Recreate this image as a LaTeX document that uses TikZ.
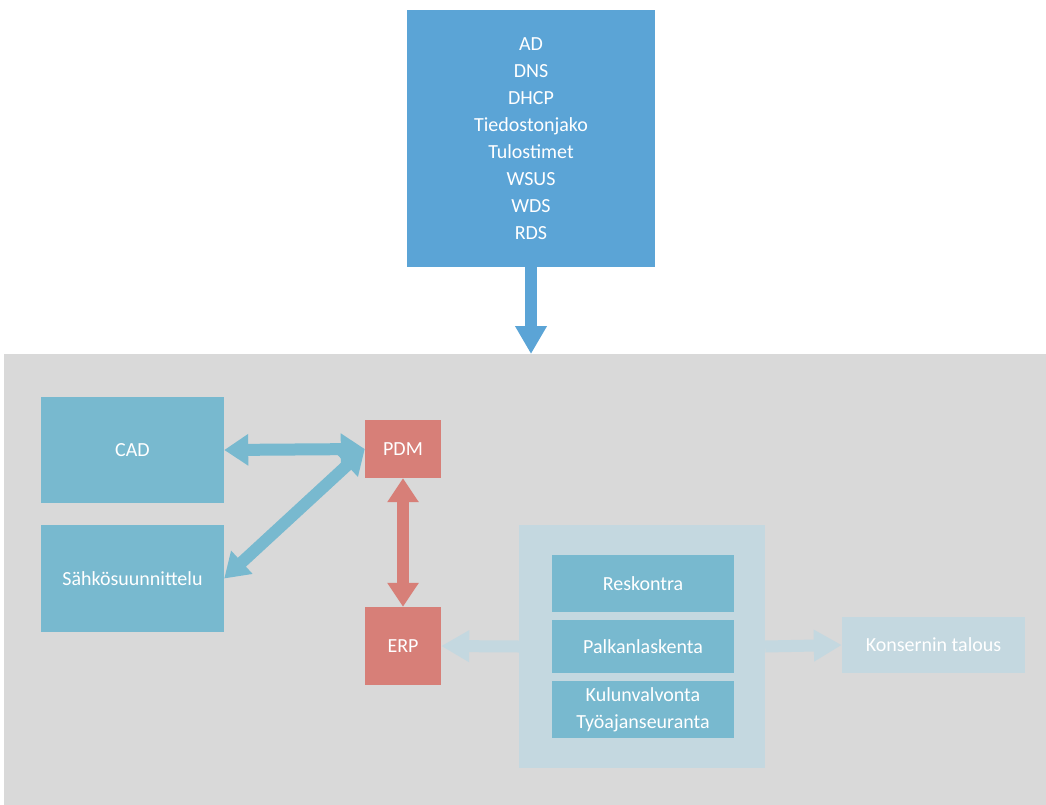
\documentclass[tikz,border=0pt]{standalone}
\usepackage{fontspec}
\setmainfont{Carlito}
\usetikzlibrary{arrows.meta}
\definecolor{srvblue}{HTML}{5BA4D6}
\definecolor{appteal}{HTML}{78B9CF}
\definecolor{pdmred}{HTML}{D77F78}
\definecolor{palegrp}{HTML}{C4D8E0}
\definecolor{bggrey}{HTML}{D9D9D9}
\tikzset{
  box/.style={draw=none, inner sep=0pt, align=center, text=white,
    font=\fontsize{20}{27}\selectfont},
  fat/.style={line width=12pt,
    {Triangle[width=30pt,length=24pt]}-{Triangle[width=30pt,length=24pt]}},
  fatone/.style={line width=12pt, -{Triangle[width=30pt,length=28pt]}},
}
\begin{document}
\begin{tikzpicture}[x=1pt,y=-1pt]
  \useasboundingbox (0,0) rectangle (1046,805);
  % backdrop of the office network
  \fill[bggrey] (4,354) rectangle (1046,805);
  \coordinate (net) at (531,354);

  % infrastructure services
  \node[box, fill=srvblue, minimum width=248pt, minimum height=257pt]
    (srv) at (531,138.5) {AD\\DNS\\DHCP\\Tiedostonjako\\Tulostimet\\WSUS\\WDS\\RDS};

  % design applications
  \node[box, fill=appteal, minimum width=183pt, minimum height=106pt]
    (cad) at (132.5,450) {CAD};
  \node[box, fill=appteal, minimum width=183pt, minimum height=107pt]
    (sahko) at (132.5,578.5) {Sähkösuunnittelu};

  % product data and ERP
  \node[box, fill=pdmred, minimum width=76pt, minimum height=58pt]
    (pdm) at (403,449) {PDM};
  \node[box, fill=pdmred, minimum width=76pt, minimum height=78pt]
    (erp) at (403,646) {ERP};

  % finance group
  \node[box, fill=palegrp, minimum width=246pt, minimum height=243pt]
    (grp) at (642,646.5) {};
  \node[box, fill=appteal, minimum width=182pt, minimum height=57pt]
    (resk) at (643,583.5) {Reskontra};
  \node[box, fill=appteal, minimum width=182pt, minimum height=53pt]
    (palk) at (643,646.5) {Palkanlaskenta};
  \node[box, fill=appteal, minimum width=182pt, minimum height=57pt]
    (kulu) at (643,709.5) {Kulunvalvonta\\Työajanseuranta};

  \node[box, fill=palegrp, minimum width=183pt, minimum height=56pt]
    (kons) at (933.5,645) {Konsernin talous};

  % connectors
  \draw[fatone, srvblue] (srv.south) -- (net);
  \draw[fat, appteal] (cad.east) -- (pdm.west);
  \draw[fat, appteal] (pdm.west) -- (sahko.east);
  \draw[fat, pdmred] (pdm.south) -- (erp.north);
  \draw[fatone, palegrp] (grp.west) -- (erp.east);
  \draw[fatone, palegrp] (grp.east) -- (kons.west);
\end{tikzpicture}
\end{document}
